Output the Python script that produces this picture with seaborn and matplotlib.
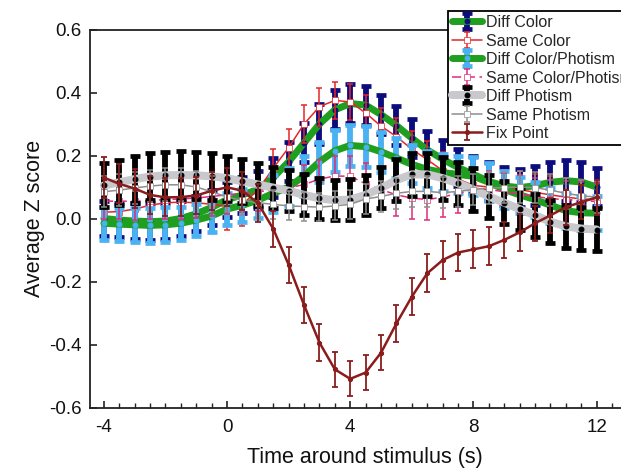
import numpy as np
import pandas as pd
import matplotlib
matplotlib.use("Agg")
import matplotlib.pyplot as plt
import seaborn as sns
from matplotlib.container import ErrorbarContainer

# ---------------- data ----------------
time = [-4, -3.5, -3, -2.5, -2, -1.5, -1, -0.5, 0, 0.5, 1, 1.5, 2, 2.5, 3, 3.5, 4,
        4.5, 5, 5.5, 6, 6.5, 7, 7.5, 8, 8.5, 9, 9.5, 10, 10.5, 11, 11.5, 12]

diff_color = [0.000, -0.005, -0.008, -0.010, -0.008, 0.000, 0.015, 0.035, 0.060, 0.075, 0.092,
              0.130, 0.180, 0.240, 0.300, 0.345, 0.365, 0.360, 0.330, 0.295, 0.255, 0.218,
              0.188, 0.162, 0.140, 0.118, 0.103, 0.098, 0.104, 0.115, 0.120, 0.116, 0.100]
diff_color_err = [0.055, 0.055, 0.058, 0.058, 0.056, 0.055, 0.055, 0.055, 0.056, 0.058, 0.060,
                  0.062, 0.062, 0.062, 0.062, 0.062, 0.062, 0.062, 0.062, 0.062, 0.060, 0.060,
                  0.060, 0.060, 0.060, 0.060, 0.060, 0.060, 0.062, 0.064, 0.066, 0.064, 0.060]

same_color = [0.020, 0.022, 0.030, 0.042, 0.050, 0.052, 0.050, 0.045, 0.038, 0.045, 0.090,
              0.160, 0.225, 0.300, 0.355, 0.375, 0.370, 0.335, 0.293, 0.260, 0.220, 0.187,
              0.152, 0.125, 0.105, 0.100, 0.097, 0.092, 0.083, 0.075, 0.068, 0.062, 0.060]
same_color_err = [0.065, 0.065, 0.068, 0.070, 0.070, 0.072, 0.075, 0.078, 0.075, 0.070, 0.065,
                  0.062, 0.060, 0.060, 0.060, 0.058, 0.058, 0.058, 0.058, 0.058, 0.058, 0.058,
                  0.058, 0.058, 0.058, 0.058, 0.058, 0.058, 0.058, 0.060, 0.060, 0.060, 0.060]

diff_cp = [-0.015, -0.018, -0.020, -0.022, -0.020, -0.015, -0.005, 0.008, 0.030, 0.042, 0.058,
           0.080, 0.100, 0.135, 0.180, 0.215, 0.232, 0.228, 0.212, 0.192, 0.172, 0.156,
           0.146, 0.140, 0.134, 0.115, 0.092, 0.075, 0.060, 0.042, 0.025, 0.018, 0.017]
diff_cp_err = [0.052, 0.052, 0.054, 0.055, 0.055, 0.052, 0.050, 0.050, 0.050, 0.052, 0.055,
               0.058, 0.060, 0.062, 0.064, 0.066, 0.066, 0.066, 0.064, 0.062, 0.060, 0.058,
               0.058, 0.058, 0.060, 0.060, 0.058, 0.056, 0.055, 0.055, 0.055, 0.055, 0.055]

same_cp = [0.055, 0.055, 0.055, 0.057, 0.060, 0.062, 0.065, 0.070, 0.075, 0.080, 0.085,
           0.090, 0.097, 0.108, 0.125, 0.135, 0.134, 0.110, 0.092, 0.075, 0.065, 0.060,
           0.068, 0.080, 0.090, 0.092, 0.085, 0.078, 0.070, 0.063, 0.060, 0.057, 0.054]
same_cp_err = [0.058, 0.058, 0.060, 0.060, 0.060, 0.062, 0.062, 0.062, 0.060, 0.060, 0.060,
               0.060, 0.060, 0.062, 0.062, 0.064, 0.064, 0.066, 0.066, 0.066, 0.066, 0.064,
               0.064, 0.062, 0.062, 0.060, 0.060, 0.060, 0.058, 0.058, 0.058, 0.058, 0.058]

diff_ph = [0.105, 0.115, 0.125, 0.133, 0.137, 0.138, 0.137, 0.134, 0.128, 0.118, 0.108,
           0.098, 0.088, 0.075, 0.064, 0.058, 0.060, 0.075, 0.097, 0.122, 0.140, 0.140,
           0.128, 0.112, 0.092, 0.070, 0.050, 0.030, 0.010, -0.010, -0.025, -0.032, -0.035]
diff_ph_err = [0.070, 0.072, 0.075, 0.075, 0.075, 0.075, 0.075, 0.075, 0.072, 0.070, 0.068,
               0.066, 0.065, 0.065, 0.064, 0.064, 0.064, 0.064, 0.065, 0.066, 0.068, 0.068,
               0.068, 0.068, 0.068, 0.068, 0.068, 0.068, 0.068, 0.068, 0.068, 0.068, 0.068]

same_ph = [0.085, 0.090, 0.097, 0.103, 0.107, 0.107, 0.100, 0.085, 0.068, 0.058, 0.050,
           0.045, 0.040, 0.038, 0.036, 0.040, 0.045, 0.062, 0.070, 0.080, 0.086, 0.086,
           0.082, 0.086, 0.092, 0.097, 0.098, 0.100, 0.098, 0.090, 0.080, 0.072, 0.068]
same_ph_err = [0.050, 0.050, 0.052, 0.052, 0.052, 0.052, 0.050, 0.050, 0.048, 0.048, 0.047,
               0.046, 0.046, 0.045, 0.045, 0.046, 0.046, 0.048, 0.050, 0.050, 0.050, 0.050,
               0.050, 0.050, 0.050, 0.050, 0.050, 0.050, 0.050, 0.050, 0.050, 0.050, 0.050]

fix_point = [0.130, 0.110, 0.095, 0.075, 0.067, 0.068, 0.073, 0.088, 0.099, 0.088, 0.049,
             -0.033, -0.147, -0.275, -0.394, -0.479, -0.509, -0.489, -0.426, -0.333, -0.248,
             -0.174, -0.132, -0.108, -0.098, -0.088, -0.068, -0.044, -0.015, 0.010, 0.036,
             0.052, 0.067]
fix_point_err = [0.065, 0.062, 0.062, 0.060, 0.060, 0.060, 0.060, 0.060, 0.060, 0.060, 0.060,
                 0.058, 0.058, 0.058, 0.058, 0.056, 0.056, 0.056, 0.056, 0.058, 0.058, 0.060,
                 0.060, 0.060, 0.060, 0.060, 0.058, 0.058, 0.056, 0.056, 0.056, 0.055, 0.055]

labels = ["Diff Color", "Same Color", "Diff Color/Photism", "Same Color/Photism",
          "Diff Photism", "Same Photism", "Fix Point"]

# ---------------- style ----------------
sns.set_style("ticks")
plt.rcParams["font.family"] = ["Liberation Sans", "DejaVu Sans"]
plt.rcParams["axes.unicode_minus"] = False

GREEN = "#1f9e1f"
NAVY = "#0c0c7c"
LBLUE = "#4ab2f2"
RED = "#e4262a"
MAGENTA = "#e02c7c"
LGRAY = "#c8c8cd"
BLACK = "#000000"
GRAY = "#8e8e8e"
DRED = "#8a1c1c"

# capsize in matplotlib is half the cap length
THICK_BAR = dict(elinewidth=4.2, capsize=3.3, capthick=3.4)
THIN_BAR = dict(elinewidth=1.1, capsize=2.3, capthick=1.1)
FP_BAR = dict(elinewidth=1.3, capsize=2.4, capthick=1.3)

series = [
    (diff_color, diff_color_err, NAVY, THICK_BAR,
     dict(color=GREEN, lw=5.0, marker="o", ms=3.5, mfc=NAVY, mec=NAVY)),
    (same_color, same_color_err, RED, THIN_BAR,
     dict(color=RED, lw=1.1, marker="s", ms=5, mfc="white", mec=RED, mew=0.5)),
    (diff_cp, diff_cp_err, LBLUE, THICK_BAR,
     dict(color=GREEN, lw=5.0, marker="o", ms=3.5, mfc=LBLUE, mec=LBLUE)),
    (same_cp, same_cp_err, MAGENTA, THIN_BAR,
     dict(color=MAGENTA, lw=1.1, dashes=(6, 3), marker="s", ms=5, mfc="white", mec=MAGENTA, mew=0.5)),
    (diff_ph, diff_ph_err, BLACK, THICK_BAR,
     dict(color=LGRAY, lw=5.8, marker="o", ms=3.5, mfc=BLACK, mec=BLACK)),
    (same_ph, same_ph_err, GRAY, THIN_BAR,
     dict(color=GRAY, lw=1.1, marker="s", ms=5, mfc="white", mec=GRAY, mew=0.5)),
    (fix_point, fix_point_err, DRED, FP_BAR,
     dict(color=DRED, lw=1.8, marker="o", ms=3, mfc=DRED, mec=DRED)),
]

fig = plt.figure(figsize=(6.21, 4.70), dpi=100)
fig.patch.set_facecolor("white")
W, H = 621.0, 470.0
ax = fig.add_axes([90 / W, 1 - 407.5 / H, 550 / W, 378 / H])

handles = []
for i, (vals, errs, bcol, bstyle, lkw) in enumerate(series):
    z = 2 + i
    cont = ax.errorbar(time, vals, yerr=errs, fmt="none", ecolor=bcol, zorder=z, **bstyle)
    df = pd.DataFrame({"t": time, "v": vals})
    sns.lineplot(data=df, x="t", y="v", ax=ax, zorder=z + 0.5, legend=False, **lkw)
    line = ax.lines[-1]
    h = ErrorbarContainer((line, cont.lines[1], cont.lines[2]), has_xerr=False, has_yerr=True)
    handles.append(h)

ax.set_xlim(-4.45, -4.45 + 550 / 30.8)
ax.set_ylim(-0.6, 0.6)
ax.set_xticks([-4, 0, 4, 8, 12])
ax.set_xticks(np.arange(-4.0, 13.01, 0.5), minor=True)
ax.set_yticks([-0.6, -0.4, -0.2, 0.0, 0.2, 0.4, 0.6])
ax.set_yticklabels(["-0.6", "-0.4", "-0.2", "0.0", "0.2", "0.4", "0.6"])
ax.tick_params(axis="both", which="major", direction="in", length=5, width=1.2,
               labelsize=13.5, colors="#222222", labelcolor="#111111")
ax.tick_params(axis="x", which="major", pad=8)
ax.tick_params(axis="y", which="major", pad=6)
ax.tick_params(axis="x", which="minor", direction="in", length=3.5, width=1.0, colors="#222222")
ax.set_xlabel("Time around stimulus (s)", fontsize=15.5, labelpad=8, color="#111111")
ax.set_ylabel("Average Z score", fontsize=15.5, labelpad=3, color="#111111")
for s in ["left", "bottom", "top", "right"]:
    ax.spines[s].set_linewidth(1.3)
    ax.spines[s].set_color("#222222")

leg = ax.legend(handles, labels, loc="upper left",
                bbox_to_anchor=(448 / W, 1 - 11 / H), bbox_transform=fig.transFigure,
                fontsize=11.5, handlelength=1.9, handletextpad=0.25, labelspacing=0.22,
                borderpad=0.25, borderaxespad=0, fancybox=False, framealpha=1,
                edgecolor="black", frameon=True)
leg.get_frame().set_linewidth(1.3)
leg.set_zorder(20)

fig.savefig("out.png", dpi=100, facecolor="white")
